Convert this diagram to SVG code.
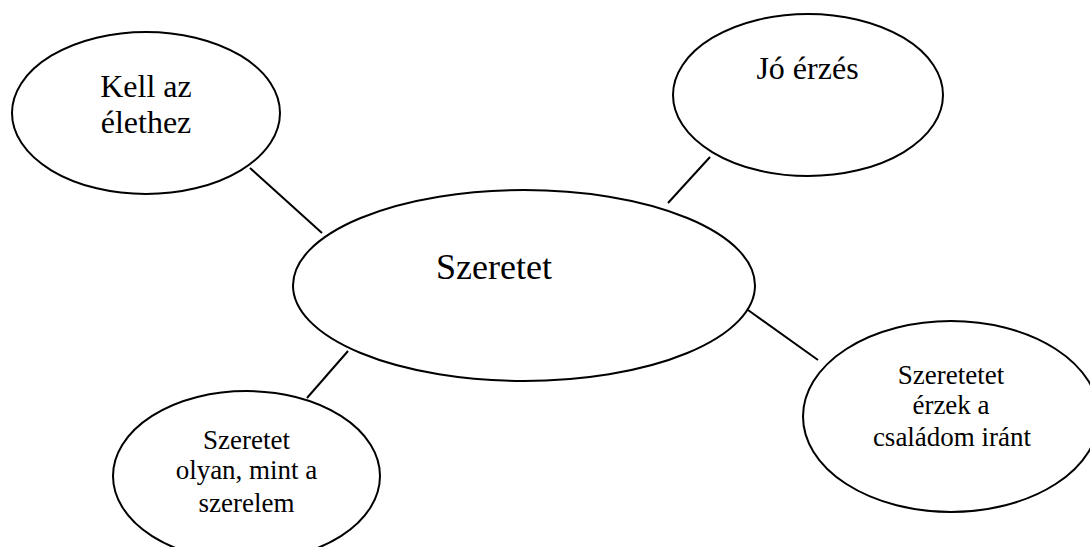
<svg xmlns="http://www.w3.org/2000/svg" width="1090" height="547" viewBox="0 0 1090 547">
<style>
.n{fill:#fff;stroke:#000;stroke-width:2}
.c line{stroke:#000;stroke-width:2}
text{font-family:"Liberation Serif","Times New Roman",serif;fill:#000;text-anchor:middle}
.l{font-size:32px}
.s{font-size:27px}
</style>
<rect width="1090" height="547" fill="#fff"/>
<g class="c" id="connectors">
<line x1="250" y1="168" x2="322" y2="233"/>
<line x1="710" y1="157" x2="668" y2="203"/>
<line x1="748" y1="310" x2="818" y2="360"/>
<line x1="348" y1="351" x2="307" y2="398"/>
</g>
<g id="center">
<ellipse class="n" cx="524" cy="285.5" rx="231" ry="95.5"/>
<text x="494" y="279" style="font-size:36px">Szeretet</text>
</g>
<g id="kell">
<ellipse class="n" cx="146" cy="113" rx="134" ry="81"/>
<text class="l" x="146" y="97">Kell az</text>
<text class="l" x="146" y="133">élethez</text>
</g>
<g id="jo">
<ellipse class="n" cx="808" cy="95" rx="135" ry="81"/>
<text class="l" x="807.5" y="79">Jó érzés</text>
</g>
<g id="csalad">
<ellipse class="n" cx="951" cy="416.5" rx="148" ry="95.5"/>
<text class="s" x="951" y="384">Szeretetet</text>
<text class="s" x="951" y="414">érzek a</text>
<text class="s" x="952" y="446">családom iránt</text>
</g>
<g id="szerelem">
<ellipse class="n" cx="246.5" cy="476" rx="133.5" ry="85"/>
<text class="s" x="246.5" y="449">Szeretet</text>
<text class="s" x="246.5" y="479">olyan, mint a</text>
<text class="s" x="246.5" y="512">szerelem</text>
</g>
</svg>
